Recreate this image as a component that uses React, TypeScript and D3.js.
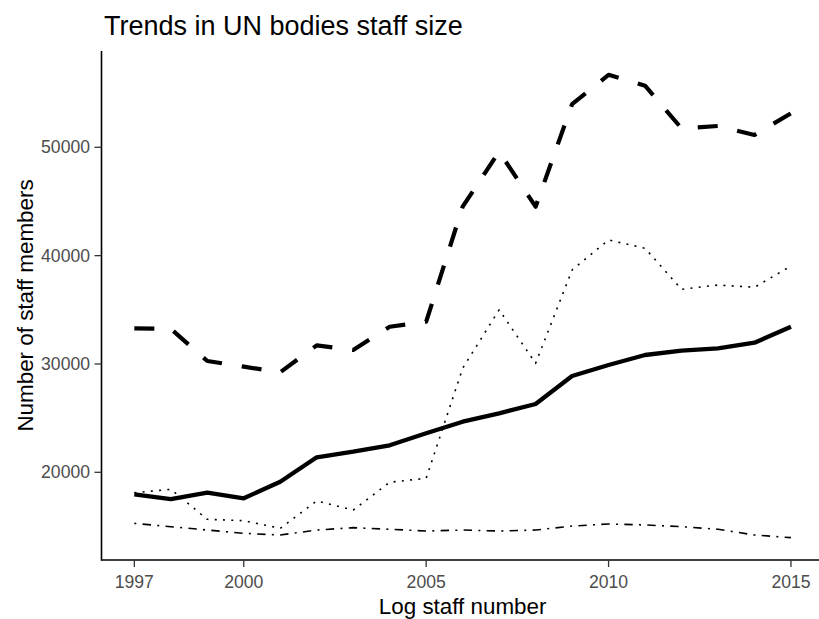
import React from "react";
import * as d3 from "d3";

const years = [1997, 1998, 1999, 2000, 2001, 2002, 2003, 2004, 2005, 2006, 2007, 2008, 2009, 2010, 2011, 2012, 2013, 2014, 2015];
const solidSeries = [17970, 17535, 18117, 17600, 19132, 21385, 21900, 22492, 23600, 24670, 25446, 26305, 28890, 29905, 30828, 31225, 31446, 31963, 33440];
const dashedSeries = [33293, 33250, 30275, 29750, 29240, 31720, 31290, 33440, 33900, 44520, 49600, 44520, 53990, 56690, 55690, 51750, 51970, 51140, 53140];
const dottedSeries = [18117, 18430, 15660, 15535, 14830, 17350, 16520, 19077, 19446, 29600, 35000, 30060, 38675, 41450, 40680, 36890, 37290, 37080, 39040];
const dotdashSeries = [15290, 14980, 14670, 14370, 14210, 14670, 14890, 14740, 14580, 14670, 14580, 14670, 15040, 15230, 15140, 14980, 14740, 14210, 13970];
const xTicks = [1997, 2000, 2005, 2010, 2015];
const yTicks = [20000, 30000, 40000, 50000];

const titleText = "Trends in UN bodies staff size";
const xTitle = "Log staff number";
const yTitle = "Number of staff members";

export default function App() {
  const W = 819;
  const H = 619;
  const left = 101.5;
  const right = 823.8;
  const top = 51;
  const bottom = 560;

  const x = d3.scaleLinear().domain([1996.1, 2015.9]).range([left, right]);
  const y = d3.scaleLinear().domain([11905, 58890]).range([bottom, top]);

  const line = d3
    .line<[number, number]>()
    .x((d) => x(d[0]))
    .y((d) => y(d[1]));

  const mk = (vals: number[]) => line(years.map((yr, i) => [yr, vals[i]] as [number, number])) || "";

  const font = "'Liberation Sans', Arial, sans-serif";
  const grey = "#4D4D4D";

  return (
    <svg width={W} height={H} style={{ position: "absolute", left: 0, top: 0, background: "#fff" }}>
      <rect x={0} y={0} width={W} height={H} fill="#fff" />
      <text x={104} y={35} fontFamily={font} fontSize={27} fill="#000">
        {titleText}
      </text>

      {/* lines */}
      <path d={mk(dotdashSeries)} fill="none" stroke="#000" strokeWidth={1.6} strokeDasharray="2,6.3,8.4,6.3" strokeLinejoin="round" />
      <path d={mk(dottedSeries)} fill="none" stroke="#000" strokeWidth={1.6} strokeDasharray="2,6.3" strokeLinejoin="round" />
      <path d={mk(solidSeries)} fill="none" stroke="#000" strokeWidth={4.3} strokeLinejoin="round" />
      <path d={mk(dashedSeries)} fill="none" stroke="#000" strokeWidth={4.2} strokeDasharray="20,20" strokeLinejoin="round" />

      {/* axes */}
      <line x1={left} x2={W} y1={bottom} y2={bottom} stroke="#000" strokeWidth={1.6} />
      <line x1={left} x2={left} y1={top} y2={bottom + 0.8} stroke="#000" strokeWidth={1.6} />

      {xTicks.map((t) => (
        <g key={"x" + t}>
          <line x1={x(t)} x2={x(t)} y1={bottom} y2={bottom + 7} stroke="#333" strokeWidth={1.3} />
          <text x={x(t)} y={588} textAnchor="middle" fontFamily={font} fontSize={17.6} fill={grey}>
            {t}
          </text>
        </g>
      ))}
      {yTicks.map((t) => (
        <g key={"y" + t}>
          <line x1={left - 7} x2={left} y1={y(t)} y2={y(t)} stroke="#333" strokeWidth={1.3} />
          <text x={90} y={y(t)} dy="0.35em" textAnchor="end" fontFamily={font} fontSize={17.6} fill={grey}>
            {t}
          </text>
        </g>
      ))}

      <text x={(left + right) / 2} y={614} textAnchor="middle" fontFamily={font} fontSize={22.4} fill="#000">
        {xTitle}
      </text>
      <text
        transform={`translate(33, ${(top + bottom) / 2}) rotate(-90)`}
        textAnchor="middle"
        fontFamily={font}
        fontSize={22.4}
        fill="#000"
      >
        {yTitle}
      </text>
    </svg>
  );
}
